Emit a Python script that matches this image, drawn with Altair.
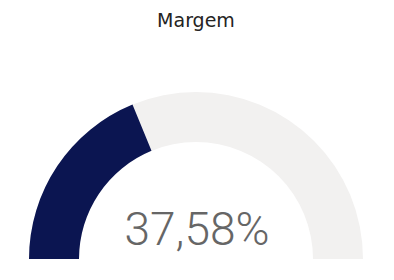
import altair as alt
import pandas as pd

title_text = ["Margem"]
gauge_value = [37.58]
gauge_min = [0]
gauge_max = [100]

val = gauge_value[0]
label = f"{val:.2f}".replace(".", ",") + "%"

bg = pd.DataFrame({"start": gauge_min, "end": gauge_max})
fg = pd.DataFrame({"start": gauge_min, "end": gauge_value})
txt = pd.DataFrame({"label": [label]})
ttl = pd.DataFrame({"title": title_text})

theta_scale = alt.Scale(domain=[gauge_min[0], gauge_max[0]], range=[4.71238898, 7.85398163])

CX, CY = 196, 259

base_bg = alt.Chart(bg).mark_arc(radius=167, radius2=117, color="#F2F1F0").encode(
    theta=alt.Theta("start:Q", scale=theta_scale),
    theta2="end:Q",
    x=alt.value(CX),
    y=alt.value(CY),
)

base_fg = alt.Chart(fg).mark_arc(radius=167, radius2=117, color="#0B1551").encode(
    theta=alt.Theta("start:Q", scale=theta_scale),
    theta2="end:Q",
    x=alt.value(CX),
    y=alt.value(CY),
)

value_text = alt.Chart(txt).mark_text(
    font="Roboto", fontWeight=300, fontSize=46, color="#666666", baseline="alphabetic", align="center"
).encode(text="label:N", x=alt.value(197), y=alt.value(245))

title = alt.Chart(ttl).mark_text(
    font="DejaVu Sans", fontSize=19, color="#252423", baseline="alphabetic", align="center"
).encode(text="title:N", x=alt.value(196), y=alt.value(27))

chart = alt.layer(base_bg, base_fg, value_text, title).properties(
    width=394, height=280, padding=0, autosize="none"
).configure_view(stroke=None)

chart.save("out.html", embed_options={"renderer": "svg", "actions": False})
